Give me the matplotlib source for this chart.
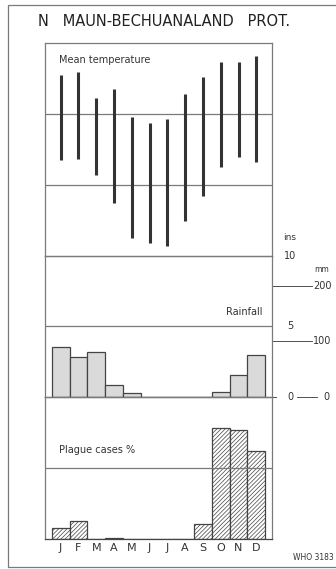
import matplotlib.pyplot as plt
import matplotlib.transforms as mtransforms
from matplotlib.patches import Rectangle
import numpy as np

months = ['J', 'F', 'M', 'A', 'M', 'J', 'J', 'A', 'S', 'O', 'N', 'D']
# mean daily max / min temperature, deg F
temp_max = [91.0, 91.9, 84.4, 87.0, 79.2, 77.5, 78.6, 85.6, 90.3, 94.7, 94.7, 96.3]
temp_min = [67.0, 67.3, 62.8, 54.8, 45.0, 43.6, 42.8, 49.7, 56.7, 64.9, 67.9, 66.3]
# monthly rainfall, inches
rain_ins = [3.57, 2.84, 3.19, 0.85, 0.28, 0.0, 0.0, 0.05, 0.05, 0.40, 1.57, 2.96]
# share of plague cases per month, %
plague_pct = [3.2, 5.1, 0.0, 0.4, 0.0, 0.0, 0.0, 0.0, 4.3, 31.4, 30.8, 24.8]

ins_ticks = [10, 5, 0]
mm_ticks = [200, 100]

plt.rcParams['font.family'] = 'DejaVu Sans'
plt.rcParams['hatch.linewidth'] = 0.5
grey = '#7a7a7a'
ink = '#333333'

fig = plt.figure(figsize=(3.36, 5.69), dpi=100)
W, H = 336.0, 569.0


def box(y_top, y_bot):
    return fig.add_axes([45 / W, 1 - y_bot / H, 227 / W, (y_bot - y_top) / H])


band = (539 - 43) / 7.0
ax_t = box(43, 43 + 3 * band)
ax_r = box(43 + 3 * band, 43 + 5 * band)
ax_p = box(43 + 5 * band, 539)

x = np.arange(12)
for ax in (ax_t, ax_r, ax_p):
    ax.set_xlim(-0.88, 11.88)
    ax.set_xticks([])
    ax.set_yticks([])
    ax.patch.set_alpha(0)
    for s in ax.spines.values():
        s.set_color(grey)
        s.set_linewidth(0.9)

# temperature range bars
ax_t.set_ylim(40, 100)
for v in (60, 80):
    ax_t.axhline(v, color=grey, lw=0.9)
ax_t.vlines(x, temp_min, temp_max, color=ink, lw=2.2)
ax_t.text(0.06, 0.92, 'Mean temperature', transform=ax_t.transAxes,
          fontsize=7, color=ink, va='center')

# rainfall
ax_r.set_ylim(0, 10)
ax_r.axhline(5, color=grey, lw=0.9)
ax_r.bar(x, rain_ins, width=1.0, facecolor='#dadada', edgecolor='#444444',
         lw=0.9)
ax_r.spines['bottom'].set_color('#444444')
ax_r.text(0.96, 0.6, 'Rainfall', transform=ax_r.transAxes,
          fontsize=7, color=ink, ha='right', va='center')

# right-hand scales (inches and millimetres)
tr = mtransforms.blended_transform_factory(ax_r.transAxes, ax_r.transData)
xl = (290 - 45) / 227.0
for v in ins_ticks:
    ax_r.text(xl, v, str(v), transform=tr, fontsize=7, color=ink,
              ha='center', va='center', clip_on=False)
ax_r.annotate('ins', (xl, 10), xycoords=tr, xytext=(0, 13),
              textcoords='offset points', fontsize=6.5, color=ink,
              ha='center', va='center', annotation_clip=False)
xm0, xm1, xmt = 1.0, (312 - 45) / 227.0, (322 - 45) / 227.0
for mm in mm_ticks:
    yi = mm / 25.4
    ax_r.plot([xm0, xm1], [yi, yi], transform=tr, color=ink, lw=0.6,
              clip_on=False)
    ax_r.text(xmt, yi, str(mm), transform=tr, fontsize=7, color=ink,
              ha='center', va='center', clip_on=False)
ax_r.annotate('mm', (xmt, 200 / 25.4), xycoords=tr, xytext=(0, 12),
              textcoords='offset points', fontsize=5.5, color=ink,
              ha='center', va='center', annotation_clip=False)
ax_r.plot([1.0, (276 - 45) / 227.0], [0, 0], transform=tr, color=ink,
          lw=0.6, clip_on=False)
ax_r.plot([(297 - 45) / 227.0, (317 - 45) / 227.0], [0, 0], transform=tr,
          color=ink, lw=0.6, clip_on=False)
ax_r.text((326 - 45) / 227.0, 0, '0', transform=tr, fontsize=7, color=ink,
          ha='center', va='center', clip_on=False)

# plague cases
ax_p.set_ylim(0, 40)
ax_p.axhline(20, color=grey, lw=0.9)
ax_p.bar(x, plague_pct, width=1.0, facecolor='white', edgecolor='#444444',
         hatch='////////', lw=0.9)
ax_p.spines['bottom'].set_color('#444444')
ax_p.text(0.06, 0.63, 'Plague cases %', transform=ax_p.transAxes,
          fontsize=7, color=ink, va='center')
ax_p.set_xticks(x)
ax_p.set_xticklabels(months, fontsize=8, color=ink)
ax_p.tick_params(axis='x', length=0, pad=3)

fig.text(38 / W, 1 - 21 / H, 'N   MAUN-BECHUANALAND   PROT.', fontsize=10.5,
         color='#222222', va='center', ha='left')
fig.text(293 / W, 1 - 558 / H, 'WHO 3183', fontsize=5.5, color=ink,
         va='center', ha='left')

# outer frame
fig.add_artist(Rectangle((8 / W, 1 - 567 / H), 1.0, (567 - 5) / H,
                         transform=fig.transFigure, fill=False,
                         edgecolor=grey, lw=0.9))

fig.savefig('out.png', dpi=100, facecolor='white')
